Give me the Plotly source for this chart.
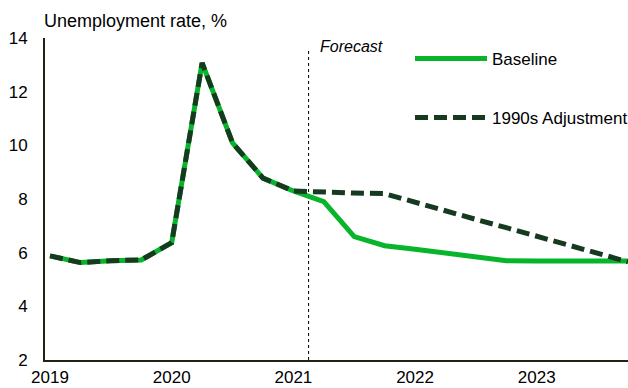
import plotly.graph_objects as go

# Quarterly data, 2019Q1 .. 2023Q4
quarters = [f"{y}Q{q}" for y in range(2019, 2024) for q in range(1, 5)]
baseline = [5.88, 5.63, 5.70, 5.73, 6.37, 13.07, 10.09, 8.78, 8.30, 7.90,
            6.60, 6.26, 6.13, 6.00, 5.85, 5.70, 5.69, 5.68, 5.68, 5.69]
adjust_1990s = [5.88, 5.63, 5.70, 5.73, 6.37, 13.07, 10.09, 8.78, 8.30, 8.25,
                8.22, 8.20, 7.87, 7.56, 7.24, 6.93, 6.61, 6.29, 5.98, 5.66]
year_labels = ["2019", "2020", "2021", "2022", "2023"]
y_ticks = [2, 4, 6, 8, 10, 12, 14]
forecast_pos = 8.5   # between 2021Q1 and 2021Q2

x_idx = list(range(len(quarters)))
year_pos = [quarters.index(f"{y}Q1") for y in year_labels]

FONT = "Arial, Liberation Sans, sans-serif"
GREEN = "#08b52a"
DARK = "#163a20"
AXIS = "#1c2414"

fig = go.Figure()
fig.add_trace(go.Scatter(x=x_idx, y=baseline, mode="lines", name="Baseline",
                         line=dict(color=GREEN, width=5), legend="legend", showlegend=True))
fig.add_trace(go.Scatter(x=x_idx, y=adjust_1990s, mode="lines", name="1990s Adjustment",
                         line=dict(color=DARK, width=5, dash="13px,6px"), legend="legend2",
                         showlegend=True))

fig.add_shape(type="line", xref="x", yref="y", x0=forecast_pos, x1=forecast_pos,
              y0=2, y1=13.55, line=dict(color="black", width=1, dash="dot"), layer="below")
fig.add_annotation(xref="x", yref="paper", x=forecast_pos, y=(360 - 46) / 322,
                   xanchor="left", yanchor="middle", xshift=9, showarrow=False,
                   text="<i>Forecast</i>", font=dict(family=FONT, size=16, color="black"))
fig.add_annotation(xref="paper", yref="paper", x=-3 / 583, y=(360 - 21) / 322,
                   xanchor="left", yanchor="middle", showarrow=False,
                   text="Unemployment rate, %", font=dict(family=FONT, size=18, color="black"))

LEG_X = (410 - 45) / 583
fig.update_layout(
    width=628, height=388, showlegend=True,
    margin=dict(l=45, r=0, t=38, b=28, autoexpand=False),
    paper_bgcolor="white", plot_bgcolor="white",
    font=dict(family=FONT, size=17, color="black"),
    legend=dict(x=LEG_X, y=(360 - 59) / 322, xanchor="left", yanchor="middle",
                itemwidth=72, font=dict(size=17), bgcolor="rgba(0,0,0,0)", visible=True),
    legend2=dict(x=LEG_X, y=(360 - 118) / 322, xanchor="left", yanchor="middle",
                 itemwidth=72, font=dict(size=17), bgcolor="rgba(0,0,0,0)", visible=True),
    xaxis=dict(range=[-0.165, 19.0], tickvals=year_pos, ticktext=year_labels,
               showgrid=False, zeroline=False, showline=True, linecolor=AXIS, linewidth=2,
               ticks="", ticklabelstandoff=1, tickfont=dict(size=17)),
    yaxis=dict(range=[2, 14], tickvals=y_ticks, showgrid=False, zeroline=False,
               showline=True, linecolor=AXIS, linewidth=2, ticks="",
               ticklabelstandoff=12, tickfont=dict(size=17)),
)

fig.write_html("out.html")
